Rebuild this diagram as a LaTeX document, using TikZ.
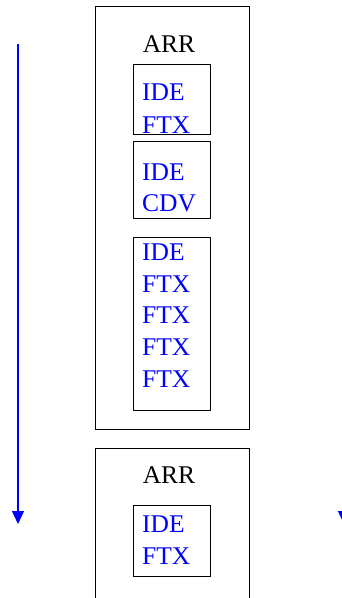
\documentclass[tikz,border=0pt]{standalone}
\usepackage{fontspec}
\setmainfont{Liberation Serif}
\usetikzlibrary{arrows.meta}

\begin{document}
\begin{tikzpicture}[x=1pt, y=-1pt,
        outer/.style={draw, line width=1.3pt, anchor=north west, minimum width=154pt, inner sep=0pt},
        inner/.style={draw, line width=1.4pt, anchor=north west, minimum width=77pt, inner sep=0pt},
        head/.style={anchor=base, inner sep=0pt, font=\fontsize{25.5}{30}\selectfont},
        txt/.style={anchor=base west, inner sep=0pt, text=blue, font=\fontsize{25.5}{30}\selectfont},
        flow/.style={blue, line width=1.3pt, -{Triangle[width=12pt, length=13pt]}}
    ]
    \useasboundingbox (0,0) rectangle (342,598);

    % Outer boxes
    \node[outer, minimum height=423pt] (arr1) at (95,6) {};
    \node[outer, minimum height=190pt] (arr2) at (95,448) {};
    \node[head] (arr1title) at (169,52) {ARR};
    \node[head] (arr2title) at (169,483) {ARR};

    % Inner boxes
    \node[inner, minimum height=70pt] (grpa) at (133,64) {};
    \node[inner, minimum height=77pt] (grpb) at (133,141) {};
    \node[inner, minimum height=173pt] (grpc) at (133,237) {};
    \node[inner, minimum height=71pt] (grpd) at (133,505) {};

    % Segment texts
    \node[txt] (ide1) at (142,100) {IDE};
    \node[txt] (ftx1) at (142,133) {FTX};
    \node[txt] (ide2) at (142,180) {IDE};
    \node[txt] (cdv2) at (142,211) {CDV};
    \node[txt] (ide3) at (142,260) {IDE};
    \foreach \y/\n in {292/a, 323/b, 355/c, 387/d}
        \node[txt] (ftx3\n) at (142,\y) {FTX};
    \node[txt] (ide4) at (142,532) {IDE};
    \node[txt] (ftx4) at (142,564) {FTX};

    % Flow arrows
    \coordinate (lefttop) at (18,44);
    \coordinate (leftend) at (18,524);
    \coordinate (righttop) at (344,44);
    \coordinate (rightend) at (344,524);
    \draw[flow] (lefttop) -- (leftend);
    \draw[flow] (righttop) -- (rightend);

\end{tikzpicture}
\end{document}
